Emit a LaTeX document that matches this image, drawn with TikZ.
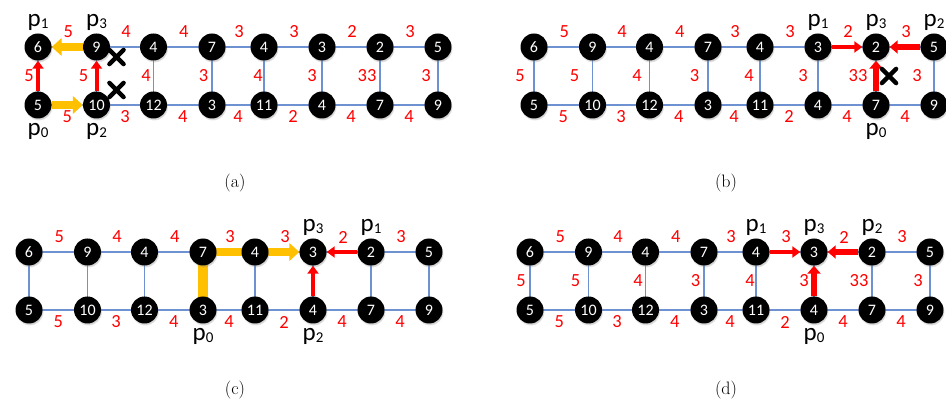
\documentclass[tikz,border=0pt]{standalone}
\usepackage{fontspec}
\newfontfamily\calibrifont{Carlito}
\usetikzlibrary{arrows.meta,calc,shapes.misc,shadows}
\pgfdeclarelayer{background}
\pgfsetlayers{background,main}

\definecolor{edgeblue}{RGB}{110,145,210}
\definecolor{hlred}{RGB}{255,0,0}
\definecolor{hlyellow}{RGB}{255,192,0}

\tikzset{
  vertex/.style={circle, fill=black, minimum size=27pt, inner sep=0pt, text=white,
    font=\calibrifont\fontsize{16}{16}\selectfont,
    circular drop shadow={shadow xshift=0.6pt, shadow yshift=-1.6pt, opacity=0.35, shadow scale=1.04}},
  weight/.style={text=hlred, inner sep=0pt, font=\calibrifont\fontsize{18.5}{18.5}\selectfont},
  plabel/.style={anchor=base, inner sep=0pt, font=\calibrifont\fontsize{25}{25}\selectfont},
  graphedge/.style={draw=edgeblue, line width=1.1pt},
  redthin/.style={draw=hlred, line width=4pt, -{Triangle[length=8pt,width=11pt]}},
  redthick/.style={draw=hlred, line width=5.5pt, -{Triangle[length=8pt,width=13pt]}},
  yellowarrow/.style={draw=hlyellow, line width=8.5pt, -{Triangle[length=10pt,width=17.5pt]}},
  yellowbar/.style={draw=hlyellow, line width=10pt},
  crossmark/.style={cross out, draw=black, line width=4.3pt, line cap=round, minimum size=10pt, inner sep=0pt},
  caption/.style={inner sep=0pt, font=\fontsize{18}{18}\selectfont}
}

% p with a lowered index
\newcommand\plab[1]{p\raisebox{-2pt}{\fontsize{15}{15}\selectfont #1}}

% One 2x8 ladder graph: #1 prefix, #2 left x, #3 top row y, #4 bottom row y,
% #5 = 1 to print the weights of the rungs, #6 extra shift of those weights
\newcommand\ladder[6]{%
  \foreach \i/\cx/\tv/\bv in {0/0/6/5,1/58.5/9/10,2/115.5/4/12,3/174/7/3,4/226/4/11,5/284/3/4,6/342/2/7,7/400/5/9}{
    \node[vertex] (#1t\i) at (#2+\cx,#3) {\tv};
    \node[vertex] (#1b\i) at (#2+\cx,#4) {\bv};
  }
  \begin{pgfonlayer}{background}
    \foreach \i in {0,...,7}{\draw[graphedge] (#1t\i.center) -- (#1b\i.center);}
    \foreach \i/\j in {0/1,1/2,2/3,3/4,4/5,5/6,6/7}{
      \draw[graphedge] (#1t\i.center) -- (#1t\j.center);
      \draw[graphedge] (#1b\i.center) -- (#1b\j.center);}
  \end{pgfonlayer}
  \foreach \i/\j/\wt/\wb in {0/1/5/5,1/2/4/3,2/3/4/4,3/4/3/4,4/5/3/2,5/6/2/4,6/7/3/4}{
    \node[weight] (#1wt\i) at ($(#1t\i)!0.5!(#1t\j)+(1,-15)$) {\wt};
    \node[weight] (#1wb\i) at ($(#1b\i)!0.5!(#1b\j)+(0,12)$) {\wb};
  }
  \ifnum#5=1
    \foreach \i/\w/\ofs in {0/5/-9,1/5/-13,2/4/-7.5,3/3/-8.5,4/4/-6,5/3/-10,6/33/-13,7/3/-12}{
      \node[weight] (#1wv\i) at ($(#1t\i)!0.5!(#1b\i)+(\ofs+#6,0)$) {\w};}
  \fi
}

\begin{document}
\begin{tikzpicture}[x=1pt,y=-1pt]
  \useasboundingbox (0,0) rectangle (946,403);
  \begin{pgfonlayer}{background}
    \fill[white] (0,0) rectangle (946,403);
  \end{pgfonlayer}

  \ladder{a}{38}{47}{105}{1}{0}
  \ladder{b}{534}{47}{105}{1}{-5}
  \ladder{c}{29}{252}{310}{0}{0}
  \ladder{d}{530}{252}{310}{1}{0}

  \begin{pgfonlayer}{background}
    % (a)
    \draw[yellowarrow] (at1) -- (at0);
    \draw[yellowarrow] (ab0) -- (ab1);
    \draw[redthin] (ab0) -- (at0);
    \draw[redthin] (ab1) -- (at1);
    % (b)
    \draw[redthin] (bt5) -- (bt6);
    \draw[redthick] (bt7) -- (bt6);
    \draw[redthick] (bb6) -- (bt6);
    % (c)
    \draw[yellowbar] (cb3.center) -- (ct3.center);
    \draw[yellowarrow] (ct3.center) -- (ct5);
    \draw[redthin] (ct6) -- (ct5);
    \draw[redthin] (cb5) -- (ct5);
    % (d)
    \draw[redthin] (dt4) -- (dt5);
    \draw[redthick] (dt6) -- (dt5);
    \draw[redthick] (db5) -- (dt5);
  \end{pgfonlayer}

  % blocked moves
  \node[crossmark] (ax1) at ($(at1)+(20,10)$) {};
  \node[crossmark] (ax2) at ($(ab1)+(20,-15)$) {};
  \node[crossmark] (bx1) at ($(bt6)!0.5!(bb6)+(13,0)$) {};

  % robot labels
  \node[plabel] (ap1) at ($(at0)+(0,-20)$) {\plab{1}};
  \node[plabel] (ap3) at ($(at1)+(0,-20)$) {\plab{3}};
  \node[plabel] (ap0) at ($(ab0)+(0,31)$) {\plab{0}};
  \node[plabel] (ap2) at ($(ab1)+(0,31)$) {\plab{2}};

  \node[plabel] (bp1) at ($(bt5)+(0,-20)$) {\plab{1}};
  \node[plabel] (bp3) at ($(bt6)+(0,-20)$) {\plab{3}};
  \node[plabel] (bp2) at ($(bt7)+(0,-20)$) {\plab{2}};
  \node[plabel] (bp0) at ($(bb6)+(0,31)$) {\plab{0}};

  \node[plabel] (cp3) at ($(ct5)+(0,-20)$) {\plab{3}};
  \node[plabel] (cp1) at ($(ct6)+(0,-20)$) {\plab{1}};
  \node[plabel] (cp0) at ($(cb3)+(0,31)$) {\plab{0}};
  \node[plabel] (cp2) at ($(cb5)+(0,31)$) {\plab{2}};

  \node[plabel] (dp1) at ($(dt4)+(0,-20)$) {\plab{1}};
  \node[plabel] (dp3) at ($(dt5)+(0,-20)$) {\plab{3}};
  \node[plabel] (dp2) at ($(dt6)+(0,-20)$) {\plab{2}};
  \node[plabel] (dp0) at ($(db5)+(0,31)$) {\plab{0}};

  % sub-figure captions
  \node[caption] (capa) at (235,183) {(a)};
  \node[caption] (capb) at (726,183) {(b)};
  \node[caption] (capc) at (235,390) {(c)};
  \node[caption] (capd) at (726,390) {(d)};
\end{tikzpicture}
\end{document}
